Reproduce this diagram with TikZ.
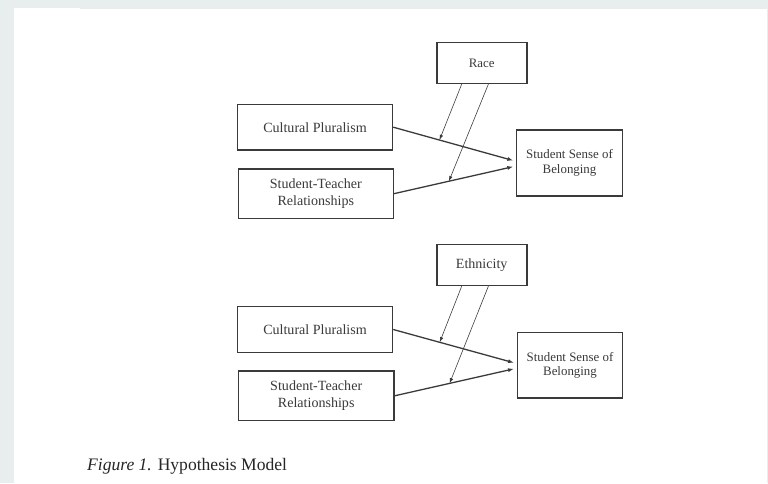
\documentclass[tikz,border=0pt]{standalone}
\usepackage{fontspec}
\setmainfont{Liberation Serif}
\usetikzlibrary{arrows.meta}
\definecolor{pagebg}{HTML}{E8EEEE}
\definecolor{ink}{HTML}{3A3A3A}

\begin{document}
\begin{tikzpicture}[x=0.03cm,y=-0.03cm,
    every node/.style={font=\fontsize{12}{14.5}\selectfont, text=ink, align=center},
    box/.style={draw=ink, line width=1pt, inner sep=0pt},
    modbox/.style={box, line width=1.4pt, minimum width=2.7cm, minimum height=1.22cm},
    effect/.style={draw=ink, line width=1.1pt, shorten >=2.5pt, -{Latex[length=5pt,width=3.5pt]}},
    moder/.style={draw=ink, line width=0.5pt, -{Latex[length=4.5pt,width=3pt]}}]
    % page
    \fill[pagebg] (0,0) rectangle (768,483);
    \fill[white] (14,8) rectangle (767,483);
    \draw[black!8] (80,8) -- (767,8);

    % race model
    \node[modbox, font=\fontsize{11}{13}\selectfont] (race) at (481.7,63) {Race};
    \node[box, minimum width=4.66cm, minimum height=1.37cm] (cp1) at (315,127.2) {Cultural Pluralism};
    \node[box, minimum width=4.65cm, minimum height=1.48cm] (str1) at (315.8,193.7) {Student-Teacher\\Relationships};
    \node[box, minimum width=3.17cm, minimum height=1.98cm, font=\fontsize{11}{12.5}\selectfont] (ssb1) at (569.5,163) {Student Sense of\\Belonging};
    \coordinate (in1a) at ([yshift=0.05cm]ssb1.west);
    \coordinate (in1b) at ([yshift=-0.09cm]ssb1.west);
    \draw[effect] (cp1.east) -- coordinate[pos=0.376] (m1a) (in1a);
    \draw[effect] (str1.east) -- coordinate[pos=0.45] (m1b) (in1b);
    \draw[moder] ([xshift=-0.6cm]race.south) -- (m1a);
    \draw[moder] ([xshift=0.2cm]race.south) -- (m1b);

    % ethnicity model
    \node[modbox] (eth) at (481.7,265) {Ethnicity};
    \node[box, minimum width=4.66cm, minimum height=1.37cm] (cp2) at (315,329.5) {Cultural Pluralism};
    \node[box, minimum width=4.67cm, minimum height=1.49cm] (str2) at (316.2,395.8) {Student-Teacher\\Relationships};
    \node[box, minimum width=3.16cm, minimum height=1.97cm, font=\fontsize{11}{12.5}\selectfont] (ssb2) at (570,365.2) {Student Sense of\\Belonging};
    \coordinate (in2a) at ([yshift=0.05cm]ssb2.west);
    \coordinate (in2b) at ([yshift=-0.09cm]ssb2.west);
    \draw[effect] (cp2.east) -- coordinate[pos=0.376] (m2a) (in2a);
    \draw[effect] (str2.east) -- coordinate[pos=0.45] (m2b) (in2b);
    \draw[moder] ([xshift=-0.6cm]eth.south) -- (m2a);
    \draw[moder] ([xshift=0.2cm]eth.south) -- (m2b);

    \node[anchor=base west, font=\fontsize{15}{18}\selectfont, text=black!85] (cap) at (83,470) {\textit{Figure 1.} Hypothesis Model};
\end{tikzpicture}
\end{document}
